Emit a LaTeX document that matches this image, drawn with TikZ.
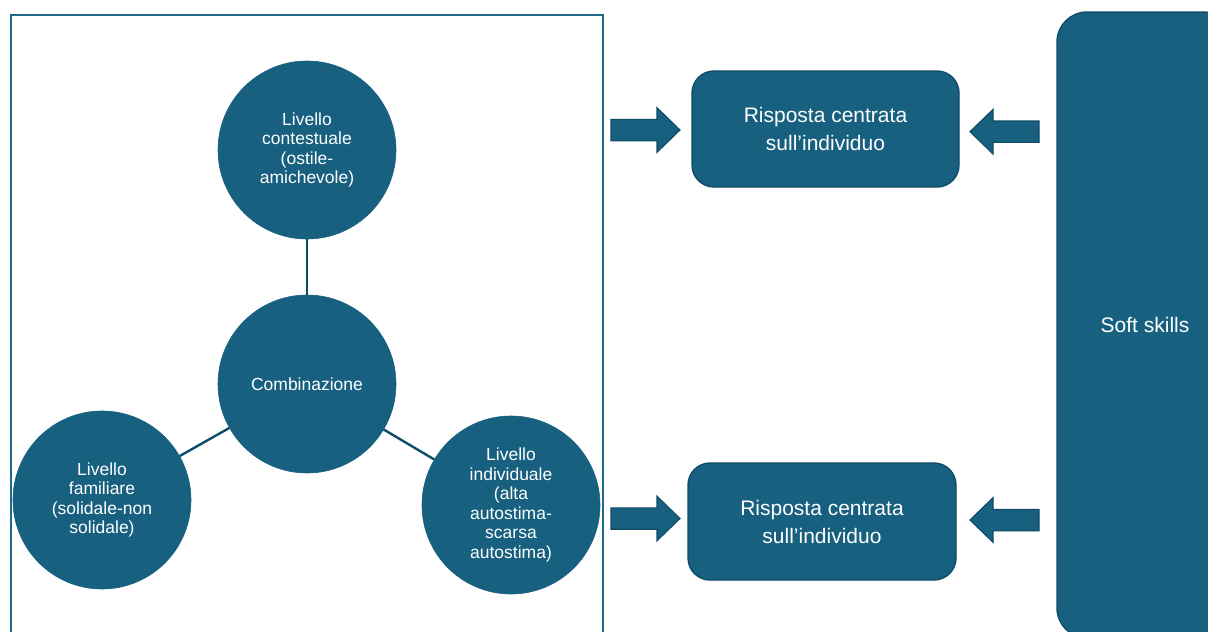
\documentclass[tikz,border=0pt]{standalone}
\usepackage{fontspec}
\setmainfont{Liberation Sans}
\definecolor{petrol}{HTML}{17607F}
\definecolor{petrolEdge}{HTML}{0F4C69}
\definecolor{frameLine}{HTML}{1F6A8A}
\tikzset{
  disc/.style={circle, fill=petrol, draw=petrol, line width=0.6pt, minimum size=178pt,
    inner sep=0pt, align=center, text=white, font=\fontsize{17.5}{19.6}\selectfont},
  card/.style={rectangle, fill=petrol, draw=petrolEdge, line width=1.4pt, rounded corners=22pt,
    align=center, text=white, font=\fontsize{21}{28}\selectfont, inner sep=0pt},
  link/.style={draw=petrolEdge, line width=2.4pt},
  shapeArrow/.style={fill=petrol, draw=petrolEdge, line width=1.1pt, line join=miter},
  blockarrow/.pic={
    \path[shapeArrow] (0,0) -- (-23,-22.3) -- (-23,-10.7) -- (-69,-10.7) -- (-69,10.7)
      -- (-23,10.7) -- (-23,22.3) -- cycle;
  }
}
\begin{document}
\begin{tikzpicture}[x=1pt,y=-1pt]
\useasboundingbox (0,0) rectangle (1208,632);
\clip (0,0) rectangle (1208,632);
\fill[white] (0,0) rectangle (1208,632);

% frame around the three levels
\draw[frameLine, line width=2pt] (11,645) -- (11,15) -- (603,15) -- (603,645);

% levels and their combination
\node[disc] (ctx)  at (307,150) {Livello\\contestuale\\(ostile-\\amichevole)};
\node[disc] (comb) at (307,384) {Combinazione};
\node[disc] (fam)  at (102,500) {Livello\\familiare\\(solidale-non\\solidale)};
\node[disc] (ind)  at (511,505) {Livello\\individuale\\(alta\\autostima-\\scarsa\\autostima)};

\draw[link] (ctx) -- (comb);
\draw[link] (comb) -- (fam);
\draw[link] (comb) -- (ind);

% responses
\node[card, minimum width=267pt, minimum height=116pt] (resp1) at (825.5,129) {Risposta centrata\\sull’individuo};
\node[card, minimum width=268pt, minimum height=117pt] (resp2) at (822,521.5) {Risposta centrata\\sull’individuo};

% soft skills column
\node[card, rounded corners=30pt, minimum width=176pt, minimum height=626pt] (soft) at (1145,325) {Soft skills};

% block arrows
\pic (a1) at (680,130) {blockarrow};
\pic (a2) at (680,518.5) {blockarrow};
\pic[xscale=-1] (a3) at (970,131.7) {blockarrow};
\pic[xscale=-1] (a4) at (970,520) {blockarrow};
\end{tikzpicture}
\end{document}
